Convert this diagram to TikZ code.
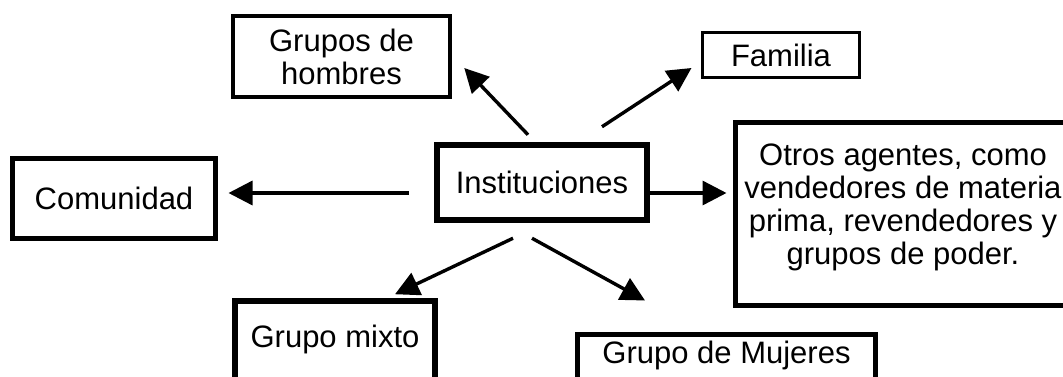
\documentclass[tikz,border=0pt]{standalone}
\usepackage{fontspec}
\setmainfont{Liberation Sans}
\usetikzlibrary{arrows.meta,calc}

\begin{document}
\begin{tikzpicture}[x=1pt, y=1pt, line join=miter,
  caja/.style={draw, inner sep=0pt, align=center, font=\fontsize{31}{33}\selectfont},
  flecha/.style={-{Triangle[length=24pt, width=24pt]}, line width=3.4pt}]
  \clip (0,0) rectangle (1063,376);
  \fill[white] (0,0) rectangle (1063,376);

  % Nodo central
  \node[caja, line width=6.5pt, minimum width=210, minimum height=75] (inst) at (542,193.5) {Instituciones};

  % Grupos alrededor
  \node[caja, line width=4.5pt, minimum width=217, minimum height=81] (hom) at (341.5,319.5) {Grupos de\\hombres};
  \node[caja, line width=3pt, minimum width=157, minimum height=45] (fam) at (781,321) {Familia};
  \node[caja, line width=5pt, minimum width=203, minimum height=80] (com) at (114,177.5) {Comunidad};
  \node[caja, line width=5pt, minimum width=335, minimum height=183, text depth=19pt] (otros) at (903,162)
    {Otros agentes, como\\vendedores de materia\\prima, revendedores y\\grupos de poder.};
  \node[caja, line width=5.5pt, minimum width=200, text height=46pt, text depth=50pt, anchor=base] (mixto) at (335,29) {Grupo mixto};
  \node[caja, line width=5pt, minimum width=298, text height=28.5pt, text depth=40pt, anchor=base] (muj) at (726.5,13) {Grupo de Mujeres};

  % Flechas
  \draw[flecha] ($(inst.north)+(-14,7)$) -- ($(hom.east)+(12,-11.5)$);
  \draw[flecha] ($(inst.north)+(60,15)$) -- ($(fam.west)+(-9.5,-13)$);
  \draw[flecha] ($(inst.west)+(-25,-10.5)$) -- ($(com.east)+(10.5,5.5)$);
  \draw[flecha] ($(inst.east)+(0,-10.5)$) -- ($(otros.west)+(-6.5,21)$);
  \draw[flecha] ($(inst.south)+(-29,-15)$) -- ($(mixto.north)+(60,4)$);
  \draw[flecha] ($(inst.south)+(-10,-15)$) -- ($(muj.north)+(-81.5,31.5)$);
\end{tikzpicture}
\end{document}
